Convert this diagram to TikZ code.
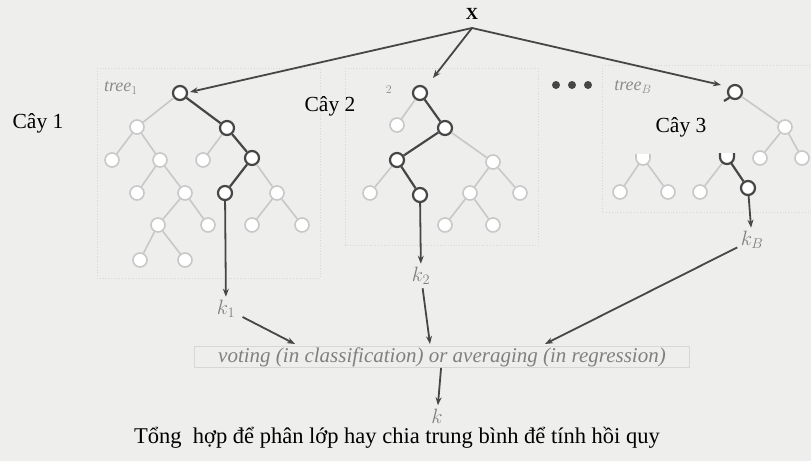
\documentclass[tikz,border=0pt]{standalone}
\usepackage{fontspec}
\setmainfont{Liberation Serif}
\usetikzlibrary{arrows.meta}
\definecolor{bg}{RGB}{238,238,236}
\definecolor{dk}{RGB}{70,70,70}
\definecolor{lt}{RGB}{200,200,200}
\definecolor{bx}{RGB}{215,215,215}
\tikzset{
  dnode/.style={circle,draw=dk,line width=2.2pt,fill=white,minimum size=14pt,inner sep=0pt},
  lnode/.style={circle,draw=lt,line width=1.6pt,fill=white,minimum size=14pt,inner sep=0pt},
  dedge/.style={draw=dk,line width=2.2pt},
  ledge/.style={draw=lt,line width=1.6pt},
  treebox/.style={draw=bx,line width=0.8pt,dotted},
  arr/.style={draw=dk,line width=1.8pt,-{Stealth[length=8pt,width=6pt]}},
  lbl/.style={font=\fontsize{21.5}{24}\selectfont,text=black},
  klbl/.style={font=\fontsize{20}{22}\selectfont\itshape,text=gray},
  tlbl/.style={font=\fontsize{18}{20}\selectfont\itshape,text=gray!90}
}
\begin{document}
\begin{tikzpicture}[x=1pt,y=-1pt]
\fill[bg] (0,0) rectangle (811,461);
\useasboundingbox (0,0) rectangle (811,461);

% boxes
\draw[treebox] (97,68) rectangle (320,278);
\draw[treebox] (345,68) rectangle (538,245);
\draw[treebox] (602,65) rectangle (811,212);

% X
\node[font=\fontsize{17}{19}\selectfont\bfseries] (X) at (472,14) {X};
\coordinate (Xo) at (472,28);

% labels
\node[lbl] (c1) at (38,123) {Cây 1};
\node[lbl] (c2) at (330,106) {Cây 2};
\node[lbl] (c3) at (681,127) {Cây 3};
\node[tlbl] (t1) at (121,88) {tree$_1$};
\node[tlbl] (t2) at (389,90) {$_2$};
\node[tlbl] (t3) at (633,87) {tree$_B$};

% dots
\foreach \i/\xx in {1/556,2/572,3/588}
  \node[circle,fill=dk,inner sep=0pt,minimum size=8pt] (dot\i) at (\xx,85) {};

% Tree 1 nodes
\node[dnode] (a1) at (180,93) {};
\node[lnode] (a2) at (137,127) {};
\node[dnode] (a3) at (227,128) {};
\node[lnode] (a4) at (112,160) {};
\node[lnode] (a5) at (160,160) {};
\node[lnode] (a6) at (203,160) {};
\node[dnode] (a7) at (252,158) {};
\node[lnode] (a8) at (137,193) {};
\node[lnode] (a9) at (185,193) {};
\node[dnode] (a10) at (225,193) {};
\node[lnode] (a11) at (277,193) {};
\node[lnode] (a12) at (158,225) {};
\node[lnode] (a13) at (208,225) {};
\node[lnode] (a14) at (252,225) {};
\node[lnode] (a15) at (302,225) {};
\node[lnode] (a16) at (140,260) {};
\node[lnode] (a17) at (185,260) {};
\draw[ledge] (a1)--(a2) (a2)--(a4) (a2)--(a5) (a3)--(a6) (a5)--(a8) (a5)--(a9)
  (a7)--(a11) (a9)--(a12) (a9)--(a13) (a11)--(a14) (a11)--(a15) (a12)--(a16) (a12)--(a17);
\draw[dedge] (a1)--(a3) (a3)--(a7) (a7)--(a10);

% Tree 2 nodes
\node[dnode] (b1) at (420,93) {};
\node[lnode] (b2) at (397,125) {};
\node[dnode] (b3) at (445,128) {};
\node[dnode] (b4) at (397,160) {};
\node[lnode] (b5) at (493,162) {};
\node[lnode] (b6) at (370,193) {};
\node[dnode] (b7) at (420,195) {};
\node[lnode] (b8) at (470,193) {};
\node[lnode] (b9) at (520,193) {};
\node[lnode] (b10) at (445,225) {};
\node[lnode] (b11) at (493,225) {};
\draw[ledge] (b1)--(b2) (b3)--(b5) (b4)--(b6) (b5)--(b8) (b5)--(b9) (b8)--(b10) (b8)--(b11);
\draw[dedge] (b1)--(b3) (b3)--(b4) (b4)--(b7);

% Tree 3 nodes
\node[dnode] (d1) at (735,92) {};
\coordinate (d1t) at (724,101);
\node[lnode] (d2) at (785,127) {};
\node[lnode] (d3) at (760,158) {};
\node[lnode] (d4) at (802,158) {};
\coordinate (e1) at (643,158);
\node[lnode] (e2) at (620,192) {};
\node[lnode] (e3) at (668,192) {};
\coordinate (u1) at (727,157);
\node[lnode] (u2) at (700,192) {};
\node[dnode] (u3) at (748,188) {};
\draw[dedge] (d1.225)--(d1t);
\draw[ledge] (d1)--(d2) (d2)--(d3) (d2)--(d4);
\draw[ledge] (e1)--(e2) (e1)--(e3);
\draw[ledge,fill=white] ([shift={(-7,-4)}]e1) -- ++(0,4) arc[start angle=180,end angle=360,radius=7pt] -- ++(0,-4);
\draw[ledge] (u1)--(u2);
\draw[dedge] (u1)--(u3);
\draw[dedge,fill=white] ([shift={(-7,-4)}]u1) -- ++(0,4) arc[start angle=180,end angle=360,radius=7pt] -- ++(0,-4);

% k labels
\node[klbl] (k1) at (226,309) {$k_1$};
\node[klbl] (k2) at (421,276) {$k_2$};
\node[klbl] (kB) at (752,240) {$k_B$};
\node[klbl] (k) at (437,416) {$k$};

% voting box
\node[draw=bx,line width=0.8pt,minimum width=495pt,minimum height=21pt,inner sep=0pt,
  font=\fontsize{21}{23}\selectfont\itshape,text=gray] (V) at (442,357)
  {voting (in classification) or averaging (in regression)};

% arrows from X
\draw[arr] (Xo) -- (190,92);
\draw[arr] (Xo) -- (433,78);
\draw[arr] (Xo) -- (721,85);

% tree to k
\draw[arr] (a10) -- (k1);
\draw[arr] (b7) -- (k2);
\draw[arr] (u3) -- (kB);

% k to box
\draw[arr] (k1.east)++(4,8) -- (295,344);
\draw[arr] (k2) -- (430,344);
\draw[arr] (kB) -- (545,344);
\draw[arr] (V) -- (k);

% caption
\node[font=\fontsize{22.5}{25}\selectfont] (cap) at (397,438)
  {Tổng\ \ hợp để phân lớp hay chia trung bình để tính hồi quy};
\end{tikzpicture}
\end{document}
